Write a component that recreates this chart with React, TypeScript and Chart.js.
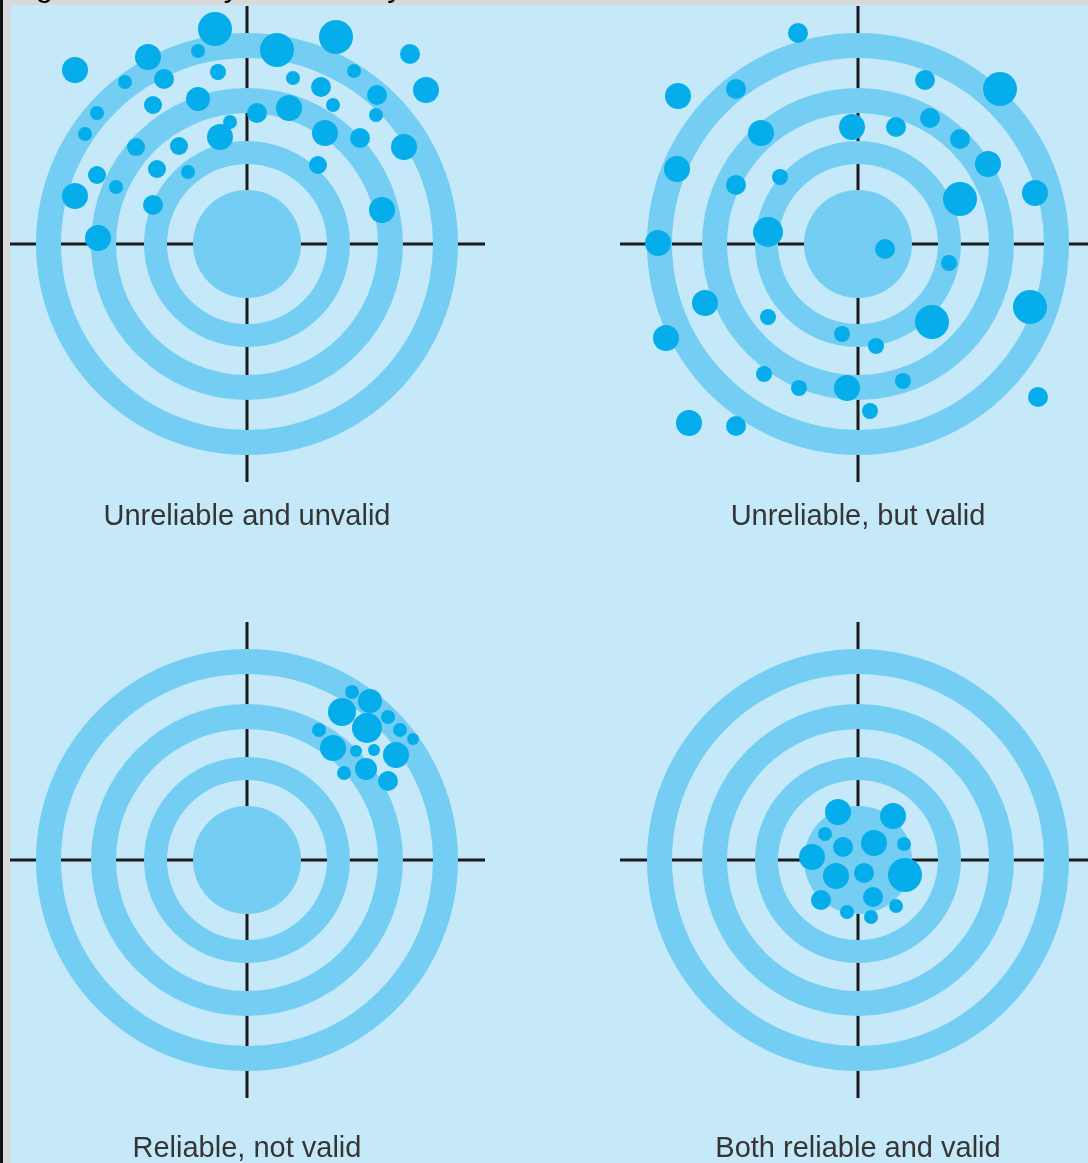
import React, { useEffect, useRef } from 'react';
import { Chart, registerables } from 'chart.js';

Chart.register(...registerables);

// ---------- data (target-centred units, y up) ----------
const PANEL_TITLES = [
  'Unreliable and unvalid',
  'Unreliable, but valid',
  'Reliable, not valid',
  'Both reliable and valid',
];

// shots: [x, y, marker radius]
const SHOTS_UNRELIABLE_UNVALID: [number, number, number][] = [
  [-32, 215, 17], [89, 207, 17], [30, 194, 17], [-99, 187, 13], [-172, 174, 13],
  [-49, 193, 7], [163, 190, 10], [-29, 172, 8], [-83, 165, 10], [-122, 162, 7],
  [46, 166, 7], [107, 173, 7], [179, 154, 13], [74, 157, 10], [130, 149, 10],
  [86, 139, 7], [129, 129, 7], [-49, 145, 12], [-94, 139, 9], [-150, 131, 7],
  [10, 131, 10], [42, 136, 13], [-17, 122, 7], [-27, 107, 13], [78, 111, 13],
  [113, 106, 10], [157, 97, 13], [-162, 110, 7], [-111, 97, 9], [-68, 98, 9],
  [-150, 69, 9], [-131, 57, 7], [-90, 75, 9], [-59, 72, 7], [71, 79, 9],
  [-172, 48, 13], [-94, 39, 10], [135, 34, 13], [-149, 6, 13],
];

const SHOTS_UNRELIABLE_VALID: [number, number, number][] = [
  [-60, 211, 10], [-180, 148, 13], [-122, 155, 10], [67, 164, 10], [142, 155, 17],
  [-6, 117, 13], [38, 117, 10], [72, 126, 10], [-97, 111, 13], [102, 105, 10],
  [130, 80, 13], [-181, 75, 13], [-122, 59, 10], [-78, 67, 8], [102, 45, 17],
  [177, 51, 13], [-90, 12, 15], [-200, 1, 13], [27, -5, 10], [91, -19, 8],
  [-153, -59, 13], [172, -63, 17], [74, -78, 17], [-90, -73, 8], [-192, -94, 13],
  [-16, -90, 8], [18, -102, 8], [-94, -130, 8], [-59, -144, 8], [-11, -144, 13],
  [45, -137, 8], [12, -167, 8], [180, -153, 10], [-169, -179, 13], [-122, -182, 10],
];

const SHOTS_RELIABLE_NOT_VALID: [number, number, number][] = [
  [105, 168, 7], [123, 159, 12], [95, 148, 14], [141, 143, 7], [120, 132, 15],
  [72, 130, 7], [153, 130, 7], [166, 121, 6], [86, 112, 13], [109, 109, 6],
  [127, 110, 6], [149, 105, 13], [119, 91, 11], [97, 87, 7], [141, 79, 10],
];

const SHOTS_RELIABLE_VALID: [number, number, number][] = [
  [-20, 48, 13], [35, 44, 13], [-33, 26, 7], [16, 17, 13], [-15, 13, 10],
  [46, 16, 7], [-46, 3, 13], [-22, -16, 13], [6, -13, 10], [47, -15, 17],
  [-37, -40, 10], [15, -37, 10], [38, -46, 7], [-11, -52, 7], [13, -57, 7],
];

// target geometry (same units): ring bands [inner, outer], bullseye radius, crosshair half-length
const RING_BANDS: [number, number][] = [[186, 211], [131, 156], [80, 103]];
const BULLSEYE_RADIUS = 54;
const CROSSHAIR_HALF = 238;

// ---------- styles ----------
const BG = '#c6e9fa';
const RING_COLOR = '#74cdf2';
const SHOT_COLOR = '#06adeb';
const LINE_COLOR = '#1b1b1b';
const FONT = '"Liberation Sans", Arial, Helvetica, sans-serif';
const PAD = 24; // fixed layout padding (larger than any marker overflow)

const PANELS = [
  { shots: SHOTS_UNRELIABLE_UNVALID, cx: 247, cy: 244, left: 10, top: 5, width: 534, height: 575, labelBaseline: 525 },
  { shots: SHOTS_UNRELIABLE_VALID, cx: 858, cy: 244, left: 544, top: 5, width: 544, height: 575, labelBaseline: 525 },
  { shots: SHOTS_RELIABLE_NOT_VALID, cx: 247, cy: 860, left: 10, top: 580, width: 534, height: 583, labelBaseline: 1157 },
  { shots: SHOTS_RELIABLE_VALID, cx: 858, cy: 860, left: 544, top: 580, width: 544, height: 583, labelBaseline: 1157 },
];

const ringPlugin = {
  id: 'targetRings',
  beforeDatasetDraw(chart: any, args: any) {
    if (args.meta.type !== 'bubble') return;
    const { ctx, scales } = chart;
    const xs = scales.x;
    const ys = scales.y;
    const cx = xs.getPixelForValue(0);
    const cy = ys.getPixelForValue(0);
    const k = xs.getPixelForValue(1) - cx;
    ctx.save();
    ctx.fillStyle = RING_COLOR;
    for (const [inner, outer] of RING_BANDS) {
      ctx.beginPath();
      ctx.arc(cx, cy, outer * k, 0, Math.PI * 2);
      ctx.arc(cx, cy, inner * k, 0, Math.PI * 2, true);
      ctx.fill();
    }
    ctx.beginPath();
    ctx.arc(cx, cy, BULLSEYE_RADIUS * k, 0, Math.PI * 2);
    ctx.fill();
    ctx.restore();
  },
};

function Target(props: any) {
  const { shots, cx, cy, left, top, width, height } = props;
  const ref = useRef<HTMLCanvasElement>(null);
  useEffect(() => {
    const lineStyle = {
      type: 'line' as const,
      borderColor: LINE_COLOR,
      borderWidth: 3,
      pointRadius: 0,
      borderCapStyle: 'butt' as const,
      clip: false,
      order: 2,
    };
    const chart = new Chart(ref.current as HTMLCanvasElement, {
      type: 'bubble',
      data: {
        datasets: [
          { ...lineStyle, data: [{ x: -CROSSHAIR_HALF, y: 0 }, { x: CROSSHAIR_HALF, y: 0 }] } as any,
          { ...lineStyle, data: [{ x: 0, y: -CROSSHAIR_HALF }, { x: 0, y: CROSSHAIR_HALF }] } as any,
          {
            type: 'bubble',
            data: shots.map(([x, y, r]: number[]) => ({ x, y, r })),
            backgroundColor: SHOT_COLOR,
            borderWidth: 0,
            clip: false,
            order: 1,
          } as any,
        ],
      },
      options: {
        responsive: false,
        animation: false,
        events: [],
        layout: { padding: PAD },
        scales: {
          x: { type: 'linear', display: false, min: left - cx, max: left + width - cx },
          y: { type: 'linear', display: false, min: cy - (top + height), max: cy - top },
        },
        plugins: {
          legend: { display: false },
          tooltip: { enabled: false },
        },
      },
      plugins: [ringPlugin],
    });
    return () => chart.destroy();
  }, []);
  const w = width + 2 * PAD;
  const h = height + 2 * PAD;
  return (
    <canvas
      ref={ref}
      width={w}
      height={h}
      style={{ position: 'absolute', left: left - PAD, top: top - PAD, width: w, height: h }}
    />
  );
}

export default function App() {
  const size = 29;
  const baselineOffset = 24.5;
  return (
    <div
      style={{
        position: 'absolute',
        left: 0,
        top: 0,
        width: 1088,
        height: 1163,
        overflow: 'hidden',
        background: BG,
        fontFamily: FONT,
      }}
    >
      {PANELS.map((p, i) => (
        <Target key={i} {...p} />
      ))}
      {PANELS.map((p, i) => (
        <div
          key={'l' + i}
          style={{
            position: 'absolute',
            left: p.cx - 260,
            width: 520,
            top: p.labelBaseline - baselineOffset,
            fontSize: size,
            lineHeight: size + 'px',
            textAlign: 'center',
            color: '#353535',
            whiteSpace: 'nowrap',
          }}
        >
          {PANEL_TITLES[i]}
        </div>
      ))}
      {/* clipped figure caption strip at top */}
      <div
        style={{
          position: 'absolute',
          left: 3,
          top: 0,
          width: 1085,
          height: 5,
          background: '#d9d9d9',
          overflow: 'hidden',
        }}
      >
        <div
          style={{
            position: 'absolute',
            left: 7,
            top: -30,
            fontSize: 31,
            lineHeight: '31px',
            color: '#000',
            whiteSpace: 'nowrap',
          }}
        >
          Figure Reliability and validity
        </div>
      </div>
      <div style={{ position: 'absolute', left: 3, top: 5, width: 7, height: 1158, background: '#d9d9d9' }} />
      <div style={{ position: 'absolute', left: 0, top: 0, width: 3, height: 1163, background: '#111' }} />
    </div>
  );
}
